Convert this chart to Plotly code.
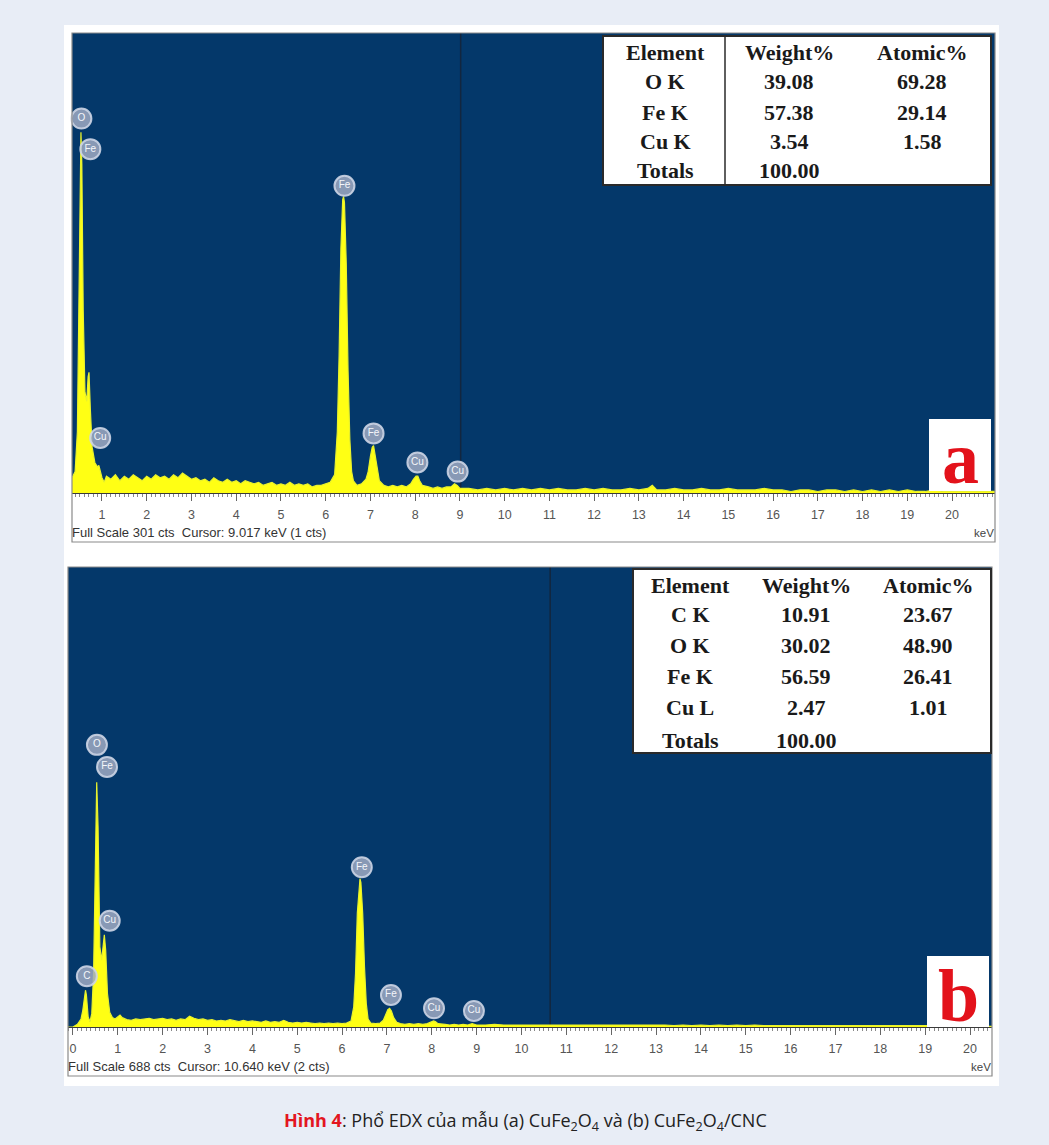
import plotly.graph_objects as go

# ---------------- DATA ----------------
# Panel (a) CuFe2O4 spectrum: energy (keV) and counts
energy_a = [0.33, 0.40, 0.45, 0.48, 0.51, 0.53, 0.55, 0.58, 0.62, 0.66, 0.69, 0.71, 0.74, 0.78, 0.84, 0.90, 0.93, 0.97, 1.00,
            1.05, 1.1, 1.2, 1.3, 1.4, 1.5, 1.6, 1.7, 1.8, 1.9, 2.0, 2.1, 2.2, 2.3, 2.4, 2.5, 2.6, 2.7, 2.8, 2.9,
            3.0, 3.1, 3.2, 3.3, 3.4, 3.5, 3.6, 3.7, 3.8, 3.9, 4.0, 4.1, 4.2, 4.3, 4.4, 4.5, 4.6, 4.7, 4.8, 4.9,
            5.0, 5.1, 5.2, 5.3, 5.4, 5.5, 5.6, 5.7, 5.8, 5.9, 6.0, 6.1,
            6.20, 6.26, 6.30, 6.34, 6.38, 6.40, 6.42, 6.46, 6.50, 6.54, 6.58, 6.62, 6.70, 6.80, 6.90,
            6.95, 7.00, 7.04, 7.07, 7.10, 7.15, 7.20, 7.30, 7.40, 7.50, 7.60, 7.70, 7.80, 7.90,
            7.96, 8.02, 8.06, 8.10, 8.16, 8.30, 8.40, 8.50, 8.60, 8.70, 8.80, 8.88, 8.94, 9.0,
            9.2, 9.4, 9.6, 9.8, 10.0, 10.2, 10.4, 10.6, 10.8, 11.0, 11.2, 11.4, 11.6, 11.8, 12.0, 12.2, 12.4, 12.6,
            12.8, 13.0, 13.2, 13.3, 13.4, 13.6, 13.8, 14.0, 14.2, 14.4, 14.6, 14.8, 15.0, 15.2, 15.4, 15.6, 15.8,
            16.0, 16.2, 16.4, 16.6, 16.8, 17.0, 17.2, 17.4, 17.6, 17.8, 18.0, 18.2, 18.4, 18.6, 18.8, 19.0, 19.2,
            19.4, 19.6, 19.8, 20.0, 20.2, 20.4, 20.6, 20.8, 21.0]
counts_a = [10, 14, 40, 120, 225, 236, 215, 120, 66, 60, 76, 79, 55, 30, 20, 17, 18, 14, 10,
            7, 11, 9, 12, 8, 11, 9, 12, 10, 8, 11, 9, 12, 10, 11, 9, 12, 10, 13, 11,
            9, 10, 8, 9, 7, 10, 8, 7, 9, 7, 8, 6, 8, 7, 6, 7, 5, 6, 7, 5,
            6, 5, 7, 5, 6, 5, 6, 4, 5, 5, 6, 7,
            12, 40, 90, 160, 192, 194, 190, 150, 80, 35, 14, 8, 5, 6, 9,
            14, 24, 30, 31, 26, 15, 8, 5, 4, 5, 4, 5, 4, 6,
            9, 11, 11, 8, 5, 4, 3, 4, 3, 4, 4, 6, 5, 3,
            3, 2, 3, 2, 3, 2, 3, 2, 3, 2, 3, 2, 2, 3, 2, 3, 2, 2,
            3, 2, 3, 5, 2, 2, 3, 2, 2, 3, 2, 2, 3, 2, 2, 2, 3,
            2, 2, 1, 2, 2, 1, 2, 2, 1, 2, 1, 2, 1, 2, 1, 2, 1,
            1, 2, 1, 1, 1, 1, 1, 1, 1]

# Panel (b) CuFe2O4/CNC spectrum
energy_b = [-0.11, 0.0, 0.10, 0.18, 0.22, 0.26, 0.28, 0.30, 0.34, 0.38, 0.42, 0.46, 0.50, 0.53, 0.56, 0.60, 0.64, 0.68,
            0.70, 0.73, 0.77, 0.82, 0.88, 0.94, 1.0, 1.05, 1.1,
            1.2, 1.3, 1.4, 1.5, 1.6, 1.7, 1.8, 1.9, 2.0, 2.1, 2.2, 2.3, 2.4, 2.5, 2.6, 2.7, 2.8, 2.9,
            3.0, 3.1, 3.2, 3.3, 3.4, 3.5, 3.6, 3.7, 3.8, 3.9, 4.0, 4.1, 4.2, 4.3, 4.4, 4.5, 4.6, 4.7, 4.8, 4.9,
            5.0, 5.1, 5.2, 5.3, 5.4, 5.5, 5.6, 5.7, 5.8, 5.9, 6.0, 6.1, 6.2,
            6.26, 6.30, 6.34, 6.38, 6.40, 6.42, 6.46, 6.50, 6.54, 6.58, 6.64, 6.75, 6.85, 6.92,
            6.97, 7.02, 7.06, 7.10, 7.15, 7.22, 7.3, 7.4, 7.5, 7.6, 7.7, 7.8, 7.9,
            7.98, 8.04, 8.08, 8.14, 8.3, 8.4, 8.5, 8.6, 8.7, 8.8, 8.9, 9.0,
            9.2, 9.4, 9.6, 9.8, 10.0, 10.2, 10.4, 10.6, 10.8, 11.0, 11.2, 11.4, 11.6, 11.8, 12.0, 12.2, 12.4,
            12.6, 12.8, 13.0, 13.2, 13.4, 13.6, 13.8, 14.0, 14.2, 14.4, 14.6, 14.8, 15.0, 15.2, 15.4, 15.6,
            15.8, 16.0, 16.2, 16.4, 16.6, 16.8, 17.0, 17.2, 17.4, 17.6, 17.8, 18.0, 18.2, 18.4, 18.6, 18.8,
            19.0, 19.2, 19.4, 19.6, 19.8, 20.0, 20.2, 20.5]
counts_b = [0, 0, 4, 12, 25, 50, 55, 48, 15, 8, 20, 80, 280, 366, 300, 120, 100, 130,
            138, 115, 50, 22, 14, 12, 15, 18, 14,
            11, 10, 12, 11, 12, 13, 11, 12, 13, 11, 12, 10, 12, 11, 16, 13, 11, 12,
            10, 11, 9, 10, 9, 11, 9, 8, 10, 8, 9, 8, 7, 9, 7, 8, 7, 10, 7, 6,
            7, 6, 7, 6, 5, 6, 5, 6, 5, 6, 5, 6, 9,
            30, 80, 170, 218, 222, 216, 170, 90, 35, 12, 6, 5, 6, 10,
            18, 26, 28, 24, 14, 7, 5, 4, 5, 4, 5, 4, 5,
            7, 9, 8, 5, 4, 3, 4, 3, 4, 3, 5, 3,
            3, 4, 3, 3, 4, 3, 4, 3, 4, 3, 4, 3, 3, 4, 3, 3, 4,
            3, 3, 4, 3, 2, 3, 2, 3, 2, 3, 2, 3, 2, 3, 2, 2,
            3, 2, 2, 3, 2, 2, 2, 3, 2, 2, 2, 2, 2, 2, 2, 2,
            2, 2, 2, 1, 2, 2, 1, 1]

# Peak labels (element, energy keV, label height in counts)
peak_el_a = ["O", "Fe", "Fe", "Cu", "Fe", "Cu", "Cu"]
peak_e_a = [0.54, 0.74, 6.42, 0.96, 7.07, 8.05, 8.95]
peak_c_a = [245, 225, 201, 36, 39, 20, 14]

peak_el_b = ["O", "Fe", "Cu", "C", "Fe", "Fe", "Cu", "Cu"]
peak_e_b = [0.535, 0.76, 0.82, 0.31, 6.44, 7.09, 8.05, 8.94]
peak_c_b = [422, 389, 159, 76, 239, 48, 28, 24]

full_scale_a = 301
full_scale_b = 688
cursor_a = 9.017
cursor_b = 10.640
cursor_cts_a = 1
cursor_cts_b = 2
xrange_a = [0.33, 20.96]
xrange_b = [-0.11, 20.49]

# Quantification tables
tbl_header = ["Element", "Weight%", "Atomic%"]
tbl_el_a = ["O K", "Fe K", "Cu K", "Totals"]
tbl_wt_a = ["39.08", "57.38", "3.54", "100.00"]
tbl_at_a = ["69.28", "29.14", "1.58", ""]
tbl_el_b = ["C K", "O K", "Fe K", "Cu L", "Totals"]
tbl_wt_b = ["10.91", "30.02", "56.59", "2.47", "100.00"]
tbl_at_b = ["23.67", "48.90", "26.41", "1.01", ""]

caption = ("<b><span style='color:#e3161f'>Hình 4</span></b>: Phổ EDX của mẫu (a) CuFe<sub>2</sub>O<sub>4</sub>"
           " và (b) CuFe<sub>2</sub>O<sub>4</sub>/CNC")

# ---------------- LAYOUT HELPERS ----------------
W, H = 1049, 1145
def px(x):
    return x / W
def py(y):
    return 1 - y / H

BG_PLOT = "#04386a"
YELLOW_LINE = "#e9f22c"
YELLOW_FILL = "#ffff14"

fig = go.Figure()

# spectra
fig.add_trace(go.Scatter(x=energy_a, y=counts_a, mode="lines", fill="tozeroy",
                         line=dict(color=YELLOW_LINE, width=1.2), fillcolor=YELLOW_FILL,
                         xaxis="x", yaxis="y", hoverinfo="skip", showlegend=False))
fig.add_trace(go.Scatter(x=energy_b, y=counts_b, mode="lines", fill="tozeroy",
                         line=dict(color=YELLOW_LINE, width=1.2), fillcolor=YELLOW_FILL,
                         xaxis="x2", yaxis="y2", hoverinfo="skip", showlegend=False))

label_marker = dict(size=20, color="rgba(160,170,194,0.85)",
                    line=dict(color="rgba(205,213,230,0.9)", width=2))
fig.add_trace(go.Scatter(x=peak_e_a, y=peak_c_a, mode="markers+text", text=peak_el_a,
                         textposition="middle center", marker=label_marker,
                         textfont=dict(size=10, color="#f4f6fa", family="Liberation Sans"),
                         xaxis="x", yaxis="y", cliponaxis=False, showlegend=False, hoverinfo="skip"))
fig.add_trace(go.Scatter(x=peak_e_b, y=peak_c_b, mode="markers+text", text=peak_el_b,
                         textposition="middle center", marker=label_marker,
                         textfont=dict(size=10, color="#f4f6fa", family="Liberation Sans"),
                         xaxis="x2", yaxis="y2", cliponaxis=False, showlegend=False, hoverinfo="skip"))

# panel geometry (pixels)
A = dict(l=72, r=995, t=33, b=493, fb=542)
B = dict(l=68, r=992, t=567, b=1027, fb=1076)

xaxis_common = dict(showgrid=False, zeroline=False, showline=True, linecolor="#3a3a3a", linewidth=1,
                    ticks="outside", ticklen=7, tickcolor="#666", tickwidth=1, dtick=1, tick0=0,
                    ticklabelstandoff=3,
                    tickfont=dict(family="Liberation Sans", size=12.5, color="#555"),
                    minor=dict(ticks="outside", dtick=0.1, ticklen=3, tickcolor="#888", showgrid=False),
                    fixedrange=True)

fig.update_layout(
    width=W, height=H, margin=dict(l=0, r=0, t=0, b=0),
    paper_bgcolor="#e8edf6", plot_bgcolor="rgba(0,0,0,0)",
    xaxis=dict(domain=[px(A["l"]), px(A["r"])], range=xrange_a, anchor="y", **xaxis_common),
    yaxis=dict(domain=[py(A["b"]), py(A["t"])], range=[0, full_scale_a], anchor="x", visible=False,
               fixedrange=True),
    xaxis2=dict(domain=[px(B["l"]), px(B["r"])], range=xrange_b, anchor="y2", **xaxis_common),
    yaxis2=dict(domain=[py(B["b"]), py(B["t"])], range=[0, full_scale_b], anchor="x2", visible=False,
                fixedrange=True),
)

shapes = []
# white container
shapes.append(dict(type="rect", xref="paper", yref="paper", x0=px(64), x1=px(999), y0=py(1086), y1=py(25),
                   fillcolor="white", line=dict(width=0), layer="below"))
for P in (A, B):
    shapes.append(dict(type="rect", xref="paper", yref="paper", x0=px(P["l"]), x1=px(P["r"]),
                       y0=py(P["fb"]), y1=py(P["t"]), fillcolor="white", line=dict(width=0), layer="below"))
    shapes.append(dict(type="rect", xref="paper", yref="paper", x0=px(P["l"]), x1=px(P["r"]),
                       y0=py(P["b"]), y1=py(P["t"]), fillcolor=BG_PLOT, line=dict(width=0), layer="below"))
# cursor lines
shapes.append(dict(type="line", xref="x", yref="paper", x0=cursor_a, x1=cursor_a, y0=py(A["b"]), y1=py(A["t"]),
                   line=dict(color="#13263f", width=1.5), layer="below"))
shapes.append(dict(type="line", xref="x2", yref="paper", x0=cursor_b, x1=cursor_b, y0=py(B["b"]), y1=py(B["t"]),
                   line=dict(color="#13263f", width=1.5), layer="below"))
for P in (A, B):
    shapes.append(dict(type="rect", xref="paper", yref="paper", x0=px(P["l"]), x1=px(P["r"]),
                       y0=py(P["fb"]), y1=py(P["t"]), fillcolor="rgba(0,0,0,0)",
                       line=dict(color="#8a8a8a", width=1.2), layer="above"))

# tables
shapes.append(dict(type="rect", xref="paper", yref="paper", x0=px(603), x1=px(991), y0=py(185), y1=py(36),
                   fillcolor="white", line=dict(color="#2a2a2a", width=2), layer="above"))
shapes.append(dict(type="line", xref="paper", yref="paper", x0=px(725), x1=px(725), y0=py(185), y1=py(36),
                   line=dict(color="#2a2a2a", width=1.5), layer="above"))
shapes.append(dict(type="rect", xref="paper", yref="paper", x0=px(633), x1=px(991), y0=py(753), y1=py(569),
                   fillcolor="white", line=dict(color="#2a2a2a", width=2), layer="above"))
# letter boxes
shapes.append(dict(type="rect", xref="paper", yref="paper", x0=px(929), x1=px(991), y0=py(491), y1=py(419),
                   fillcolor="white", line=dict(width=0), layer="above"))
shapes.append(dict(type="rect", xref="paper", yref="paper", x0=px(927), x1=px(989), y0=py(1027), y1=py(956),
                   fillcolor="white", line=dict(width=0), layer="above"))
fig.update_layout(shapes=shapes)

ann = []
SERIF = "Liberation Serif"
def tcell(x, y, txt, size=22):
    ann.append(dict(xref="paper", yref="paper", x=px(x), y=py(y), text="<b>" + txt + "</b>", showarrow=False,
                    xanchor="center", yanchor="middle", font=dict(family=SERIF, size=size, color="#1a1a1a")))

# table a
cols_a = [665, 789, 922]
rows_a = [52, 82, 112, 142, 170]
for c, h in zip(cols_a, tbl_header):
    tcell(c, rows_a[0], h)
for i in range(len(tbl_el_a)):
    tcell(cols_a[0], rows_a[i + 1], tbl_el_a[i])
    tcell(cols_a[1], rows_a[i + 1], tbl_wt_a[i])
    if tbl_at_a[i]:
        tcell(cols_a[2], rows_a[i + 1], tbl_at_a[i])
# table b
cols_b = [690, 806, 928]
rows_b = [585, 614, 645, 676, 707, 740]
for c, h in zip(cols_b, tbl_header):
    tcell(c, rows_b[0], h)
for i in range(len(tbl_el_b)):
    tcell(cols_b[0], rows_b[i + 1], tbl_el_b[i])
    tcell(cols_b[1], rows_b[i + 1], tbl_wt_b[i])
    if tbl_at_b[i]:
        tcell(cols_b[2], rows_b[i + 1], tbl_at_b[i])

# panel letters (clipped text boxes so they stay inside the white squares)
ann.append(dict(xref="paper", yref="paper", x=px(960), y=py(458), text="<b>a</b>", showarrow=False,
                xanchor="center", yanchor="middle", height=66, valign="middle",
                font=dict(family=SERIF, size=74, color="#e3121b")))
ann.append(dict(xref="paper", yref="paper", x=px(958), y=py(996), text="<b>b</b>", showarrow=False,
                xanchor="center", yanchor="middle", height=66, valign="middle",
                font=dict(family=SERIF, size=74, color="#e3121b")))

# status lines
for P, fs, cur, cc in ((A, full_scale_a, cursor_a, cursor_cts_a), (B, full_scale_b, cursor_b, cursor_cts_b)):
    ann.append(dict(xref="paper", yref="paper", x=px(P["l"] - 2), y=py(P["fb"] - 10),
                    text=f"Full Scale {fs} cts  Cursor: {cur:.3f} keV ({cc} cts)", showarrow=False,
                    xanchor="left", yanchor="middle", font=dict(family="Liberation Sans", size=13, color="#333")))
    ann.append(dict(xref="paper", yref="paper", x=px(P["r"] + 1), y=py(P["fb"] - 9), text="keV", showarrow=False,
                    xanchor="right", yanchor="middle", font=dict(family="Liberation Sans", size=11.5, color="#444")))

# caption
ann.append(dict(xref="paper", yref="paper", x=px(525), y=py(1121), text=caption, showarrow=False,
                xanchor="center", yanchor="middle", font=dict(family="Open Sans", size=18, color="#222")))

fig.update_layout(annotations=ann)
fig.write_html("out.html")
